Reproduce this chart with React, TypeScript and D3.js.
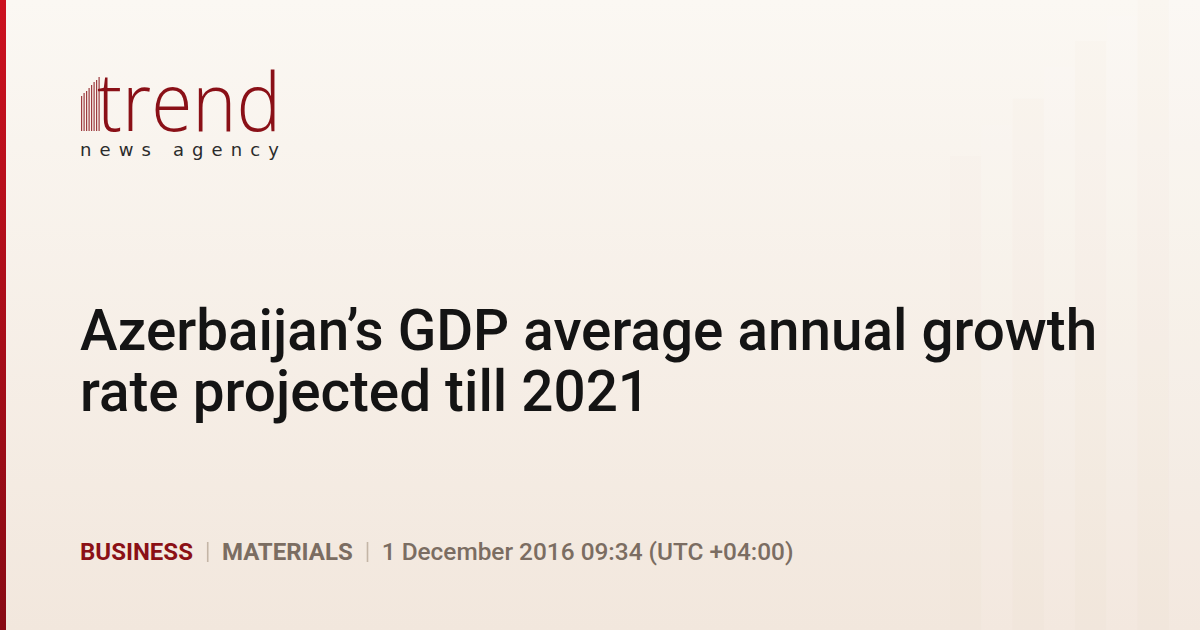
import { useEffect, useRef } from "react";
import * as d3 from "d3";

const W = 1200;
const H = 630;

// headline lines
const titleLines = ["Azerbaijan’s GDP average annual growth", "rate projected till 2021"];

// meta line: section, category, date
const metaItems = [
  { text: "BUSINESS", kind: "section" },
  { text: "MATERIALS", kind: "category" },
  { text: "1 December 2016 09:34 (UTC +04:00)", kind: "date" },
];

// logo stripes left of the "t" (top of each stripe, px from logo top)
const stripeTops = [26, 23, 21, 18, 15, 12, 10, 7];

// faint decorative bars on the right (height share of the card)
const decorBars = [0.74, 0.79, 0.83, 0.88, 0.92, 0.96, 1.0, 1.0];

export default function App() {
  const svgRef = useRef<SVGSVGElement>(null);

  useEffect(() => {
    if (!svgRef.current) return;
    const svg = d3.select(svgRef.current);
    svg.selectAll("*").remove();

    const defs = svg.append("defs");
    const bg = defs.append("linearGradient").attr("id", "bg")
      .attr("x1", "0").attr("y1", "0").attr("x2", "0").attr("y2", "1");
    bg.append("stop").attr("offset", "0%").attr("stop-color", "#fbf8f3");
    bg.append("stop").attr("offset", "100%").attr("stop-color", "#f2e7dd");

    const edge = defs.append("linearGradient").attr("id", "edge")
      .attr("x1", "0").attr("y1", "0").attr("x2", "0").attr("y2", "1");
    edge.append("stop").attr("offset", "0%").attr("stop-color", "#cc111f");
    edge.append("stop").attr("offset", "100%").attr("stop-color", "#880a14");

    svg.append("rect").attr("width", W).attr("height", H).attr("fill", "url(#bg)");

    // Decorative bars
    const bx = d3.scaleBand<number>().domain(d3.range(decorBars.length)).range([950, 1200]).padding(0);
    const by = d3.scaleLinear().domain([0, 1]).range([H, -10]);
    svg.append("g").selectAll("rect").data(decorBars).join("rect")
      .attr("x", (_, i) => bx(i)!)
      .attr("width", bx.bandwidth())
      .attr("y", d => by(d))
      .attr("height", d => H - by(d))
      .attr("fill", (_, i) => (i % 2 ? "#ffffff" : "#e9dccd"))
      .attr("opacity", (_, i) => (i % 2 ? 0.08 : 0.06));

    // Left red edge
    svg.append("rect").attr("width", 6).attr("height", H).attr("fill", "url(#edge)");

    // Logo
    const logo = svg.append("g").attr("transform", "translate(0,70)");
    const sx = d3.scaleBand<number>().domain(d3.range(stripeTops.length)).range([79.5, 101]).padding(0.6);
    const sy = d3.scaleLinear().domain([0, 61]).range([0, 61]);
    logo.selectAll("rect.stripe").data(stripeTops).join("rect")
      .attr("class", "stripe")
      .attr("x", (_, i) => sx(i)!)
      .attr("width", 1.2)
      .attr("y", d => sy(d))
      .attr("height", d => sy(61) - sy(d))
      .attr("fill", "#8c1a20")
      .attr("opacity", 0.85);
    logo.append("text")
      .attr("x", 97).attr("y", 61)
      .attr("font-family", "Open Sans").attr("font-weight", 300)
      .attr("font-size", 81).attr("fill", "#8a1017")
      .attr("textLength", 184).attr("lengthAdjust", "spacingAndGlyphs")
      .text("trend");
    logo.append("text")
      .attr("x", 80).attr("y", 86)
      .attr("font-family", "DejaVu Sans").attr("font-weight", 400)
      .attr("font-size", 18).attr("fill", "#2b2b2b")
      .attr("textLength", 199).attr("lengthAdjust", "spacing")
      .text("news agency");

    // Headline
    svg.append("g").selectAll("text").data(titleLines).join("text")
      .attr("x", 80)
      .attr("y", (_, i) => 350 + i * 61)
      .attr("font-family", "Roboto").attr("font-weight", 500)
      .attr("font-size", 56.6).attr("fill", "#141414")
      .text(d => d);

    // Meta line
    const colors: Record<string, string> = { section: "#8b1016", category: "#7b6d62", date: "#7b6d62" };
    const weights: Record<string, number> = { section: 700, category: 700, date: 500 };
    const sizes: Record<string, number> = { section: 24, category: 24, date: 24.4 };
    const meta = svg.append("g");
    let x = 80;
    metaItems.forEach((m, i) => {
      if (i > 0) {
        meta.append("rect").attr("x", x + 14).attr("y", 542).attr("width", 1.6).attr("height", 20)
          .attr("fill", "#c4b5a6");
        x += 29;
      }
      const t = meta.append("text")
        .attr("x", x).attr("y", 560)
        .attr("font-family", "Roboto").attr("font-weight", weights[m.kind])
        .attr("font-size", sizes[m.kind]).attr("fill", colors[m.kind])
        .text(m.text);
      x += (t.node() as SVGTextElement).getComputedTextLength();
    });
  }, []);

  return (
    <svg
      ref={svgRef}
      width={W}
      height={H}
      style={{ position: "fixed", left: 0, top: 0, display: "block" }}
    />
  );
}
